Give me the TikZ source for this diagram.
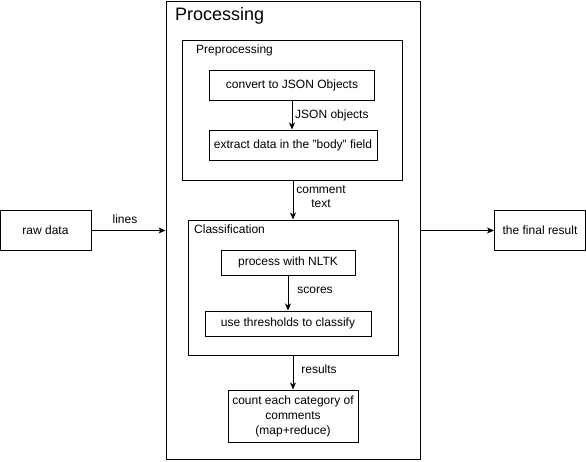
\documentclass[tikz,border=0pt]{standalone}
\usepackage{fontspec}
\setmainfont{Liberation Sans}
\usetikzlibrary{arrows.meta}
\begin{document}
\begin{tikzpicture}[x=1pt,y=-1pt,
  every node/.style={font=\fontsize{12}{14}\selectfont, inner sep=0pt},
  box/.style={draw=black, line width=1pt, rectangle, fill=white},
  lbl/.style={font=\fontsize{12}{14}\selectfont},
  arr/.style={draw=black, line width=1pt, -{Stealth[length=7pt,width=6pt,inset=2pt]}}]
\useasboundingbox[fill=white] (0,0) rectangle (586,461);
% containers
\node[box, minimum width=254pt, minimum height=458pt, fill=none] (outer) at (293,230) {};
\node[box, minimum width=220pt, minimum height=140pt, fill=none] (pre) at (292,110) {};
\node[box, minimum width=210pt, minimum height=135pt, fill=none] (cls) at (293,287.5) {};
\node[anchor=west, font=\fontsize{18}{21}\selectfont] (ptitle) at (175,16) {Processing};
\node[anchor=west] (pretitle) at (196,50) {Preprocessing};
\node[anchor=west] (clstitle) at (194,229) {Classification};
% boxes
\node[box, minimum width=91pt, minimum height=40pt] (raw) at (45.5,230.5) {raw data};
\node[box, minimum width=91pt, minimum height=40pt] (final) at (540,230.5) {the final result};
\node[box, minimum width=165pt, minimum height=30pt] (convert) at (292,85) {convert to JSON Objects};
\node[box, minimum width=168pt, minimum height=30pt] (extract) at (293,145) {extract data in the \symbol{34}body\symbol{34} field};
\node[box, minimum width=134pt, minimum height=25pt] (process) at (288,262.5) {process with NLTK};
\node[box, minimum width=166pt, minimum height=25pt] (thresh) at (288,323.5) {use thresholds to classify};
\node[box, minimum width=130pt, minimum height=52pt, align=center, font=\fontsize{12}{15}\selectfont] (count) at (293,416) {count each category of\\comments\\(map+reduce)};
% connectors
\draw[arr] (raw.east) -- (raw.east -| outer.west);
\draw[arr] (final.west -| outer.east) -- (final.west);
\draw[arr] (convert.south) -- (convert.south |- extract.north);
\draw[arr] (pre.south -| 293,0) -- (cls.north);
\draw[arr] (process.south) -- (thresh.north);
\draw[arr] (cls.south) -- (count.north);
% labels
\node[lbl] (llines) at (125,219) {lines};
\node[lbl, anchor=west] (ljson) at (295,115) {JSON objects};
\node[lbl, align=center] (lcomment) at (321,197) {comment\\text};
\node[lbl] (lscores) at (315,290) {scores};
\node[lbl] (lresults) at (319,369) {results};
\end{tikzpicture}
\end{document}
